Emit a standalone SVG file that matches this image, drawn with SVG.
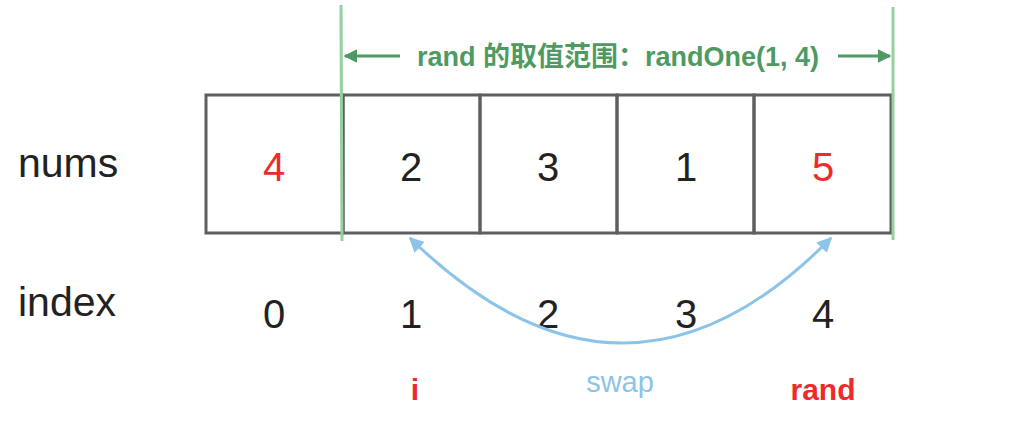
<svg xmlns="http://www.w3.org/2000/svg" width="1026" height="429" viewBox="0 0 1026 429">
<style>
.lbl{font-family:"Liberation Sans","Noto Sans CJK SC",sans-serif;font-size:41px;fill:#222}
.num{font-family:"Liberation Sans",sans-serif;font-size:40px;fill:#222;text-anchor:middle}
.red{fill:#f02a2a}
.cell{fill:none;stroke:#5f5f5f;stroke-width:3}
.range{font-family:"Liberation Sans","Noto Sans CJK SC",sans-serif;font-size:27px;font-weight:bold;fill:#4e9a62}
.bold{font-family:"Liberation Sans",sans-serif;font-size:30px;font-weight:bold;fill:#f02a2a;text-anchor:middle}
</style>
<defs>
<marker id="ga" viewBox="0 0 10 10" refX="9" refY="5" markerWidth="4.5" markerHeight="4.5" orient="auto"><path d="M0,0L10,5L0,10z" fill="#4e9a62"/></marker>
<marker id="ba" viewBox="0 0 10 10" refX="9" refY="5" markerWidth="5" markerHeight="5" orient="auto-start-reverse"><path d="M0,0L10,5L0,10z" fill="#8cc4e8"/></marker>
</defs>
<rect width="1026" height="429" fill="#fff"/>
<text class="lbl" x="18" y="177">nums</text>
<text class="lbl" x="18" y="316">index</text>
<g id="cell0"><rect class="cell" x="206" y="95" width="137" height="138"/><text class="num red" x="274" y="181">4</text></g>
<g id="cell1"><rect class="cell" x="343" y="95" width="137" height="138"/><text class="num" x="411" y="181">2</text></g>
<g id="cell2"><rect class="cell" x="480" y="95" width="137" height="138"/><text class="num" x="548" y="181">3</text></g>
<g id="cell3"><rect class="cell" x="617" y="95" width="137" height="138"/><text class="num" x="686" y="181">1</text></g>
<g id="cell4"><rect class="cell" x="754" y="95" width="137" height="138"/><text class="num red" x="823" y="181">5</text></g>
<g id="index">
<text class="num" x="274" y="328">0</text>
<text class="num" x="411" y="328">1</text>
<text class="num" x="548" y="328">2</text>
<text class="num" x="686" y="328">3</text>
<text class="num" x="823" y="328">4</text>
</g>
<g id="range">
<line x1="341" y1="5" x2="342" y2="241" stroke="#96cfa0" stroke-width="3"/>
<line x1="893" y1="7" x2="893" y2="240" stroke="#96cfa0" stroke-width="3"/>
<text class="range" x="618" y="66" text-anchor="middle">rand 的取值范围：randOne(1, 4)</text>
</g>
<g id="connectors">
<line x1="400" y1="56" x2="345" y2="56" stroke="#4e9a62" stroke-width="3" marker-end="url(#ga)"/>
<line x1="838" y1="56" x2="890" y2="56" stroke="#4e9a62" stroke-width="3" marker-end="url(#ga)"/>
<path d="M410,238 Q625,448 831,238" fill="none" stroke="#8cc4e8" stroke-width="3" marker-start="url(#ba)" marker-end="url(#ba)"/>
</g>
<text class="bold" x="415" y="400">i</text>
<text x="620" y="392" text-anchor="middle" font-family="Liberation Sans,sans-serif" font-size="29" fill="#8cc4e8">swap</text>
<text class="bold" x="823" y="400">rand</text>
</svg>
